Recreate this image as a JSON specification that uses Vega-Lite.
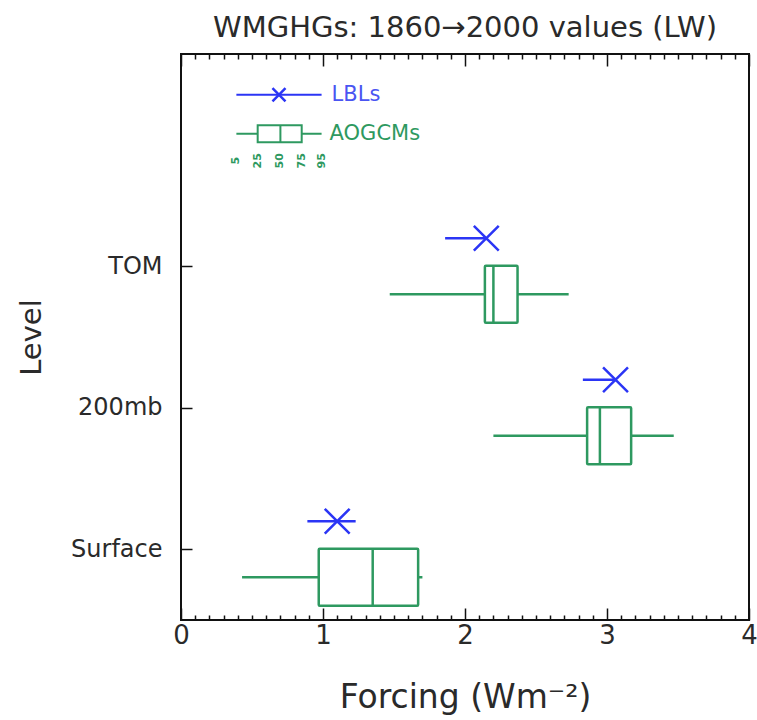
{
  "$schema": "https://vega.github.io/schema/vega-lite/v6.json",
  "width": 568,
  "height": 566,
  "autosize": "none",
  "padding": {"left": 181, "top": 54, "right": 8, "bottom": 100},
  "background": "white",
  "title": {
    "text": "WMGHGs: 1860→2000 values (LW)",
    "font": "DejaVu Sans",
    "fontSize": 29,
    "fontWeight": "normal",
    "color": "#2a2a2a",
    "anchor": "middle",
    "offset": 10
  },
  "config": {
    "view": {"stroke": "#111111", "strokeWidth": 2},
    "axis": {"labelFont": "DejaVu Sans", "titleFont": "DejaVu Sans", "labelColor": "#2a2a2a", "titleColor": "#2a2a2a", "titleFontWeight": "normal", "tickColor": "#111111", "domain": false, "grid": false}
  },
  "datasets": {
    "levels": [
      {"level": "TOM", "lbl_lo": 1.86, "lbl": 2.15, "lbl_hi": 2.15, "p5": 1.47, "p25": 2.14, "p50": 2.2, "p75": 2.37, "p95": 2.73},
      {"level": "200mb", "lbl_lo": 2.83, "lbl": 3.06, "lbl_hi": 3.06, "p5": 2.2, "p25": 2.86, "p50": 2.95, "p75": 3.17, "p95": 3.47},
      {"level": "Surface", "lbl_lo": 0.89, "lbl": 1.1, "lbl_hi": 1.23, "p5": 0.43, "p25": 0.97, "p50": 1.35, "p75": 1.67, "p95": 1.7}
    ],
    "key": [
      {"level": "key", "lbl_name": "LBLs", "aogcm_name": "AOGCMs", "lbl_lo": 0.39, "lbl": 0.69, "lbl_hi": 0.99, "p5": 0.39, "p25": 0.54, "p50": 0.7, "p75": 0.85, "p95": 0.99}
    ],
    "pct": [
      {"level": "key", "pct": "5", "value": 0.39},
      {"level": "key", "pct": "25", "value": 0.54},
      {"level": "key", "pct": "50", "value": 0.7},
      {"level": "key", "pct": "75", "value": 0.85},
      {"level": "key", "pct": "95", "value": 0.99}
    ]
  },
  "resolve": {"scale": {"x": "independent"}, "axis": {"x": "independent"}},
  "layer": [
    {
      "data": {"name": "levels"},
      "mark": {"type": "rule", "color": "#2e9960", "strokeWidth": 2.5, "yOffset": 28},
      "encoding": {
        "x": {
          "field": "p5", "type": "quantitative",
          "scale": {"domain": [0, 4], "nice": false, "zero": false},
          "axis": {
            "orient": "bottom",
            "title": "Forcing (Wm⁻²)",
            "titleFontSize": 33,
            "titlePadding": 26,
            "values": [0,0.1,0.2,0.3,0.4,0.5,0.6,0.7,0.8,0.9,1,1.1,1.2,1.3,1.4,1.5,1.6,1.7,1.8,1.9,2,2.1,2.2,2.3,2.4,2.5,2.6,2.7,2.8,2.9,3,3.1,3.2,3.3,3.4,3.5,3.6,3.7,3.8,3.9,4],
            "tickSize": {"condition": {"test": "abs(datum.value - round(datum.value)) < 0.001", "value": -12}, "value": -5},
            "tickWidth": 1.5,
            "labelExpr": "abs(datum.value - round(datum.value)) < 0.001 ? format(datum.value, '.0f') : ''",
            "labelFontSize": 26,
            "labelPadding": 14,
            "labelOverlap": false,
            "labelFlush": false
          }
        },
        "x2": {"field": "p95"},
        "y": {
          "field": "level", "type": "ordinal",
          "scale": {"type": "point", "domain": ["key", "TOM", "200mb", "Surface"], "padding": 0.5},
          "axis": {
            "title": "Level",
            "titleFontSize": 29,
            "titlePadding": 24,
            "values": ["TOM", "200mb", "Surface"],
            "tickSize": -11,
            "tickWidth": 1.5,
            "labelFontSize": 24,
            "labelPadding": 30
          }
        }
      }
    },
    {
      "data": {"name": "levels"},
      "mark": {"type": "bar", "fill": "white", "stroke": "#2e9960", "strokeWidth": 2.5, "height": 57, "yOffset": 28, "cornerRadius": 1},
      "encoding": {
        "x": {
          "field": "p25", "type": "quantitative",
          "scale": {"domain": [0, 4], "nice": false, "zero": false},
          "axis": {
            "orient": "top",
            "title": null,
            "values": [0,0.1,0.2,0.3,0.4,0.5,0.6,0.7,0.8,0.9,1,1.1,1.2,1.3,1.4,1.5,1.6,1.7,1.8,1.9,2,2.1,2.2,2.3,2.4,2.5,2.6,2.7,2.8,2.9,3,3.1,3.2,3.3,3.4,3.5,3.6,3.7,3.8,3.9,4],
            "tickSize": {"condition": {"test": "abs(datum.value - round(datum.value)) < 0.001", "value": -12}, "value": -5},
            "tickWidth": 1.5,
            "labels": false
          }
        },
        "x2": {"field": "p75"},
        "y": {"field": "level", "type": "ordinal"}
      }
    },
    {
      "data": {"name": "levels"},
      "mark": {"type": "tick", "orient": "vertical", "color": "#2e9960", "opacity": 1, "thickness": 2.5, "size": 57, "yOffset": 28},
      "encoding": {
        "x": {"field": "p50", "type": "quantitative", "scale": {"domain": [0, 4], "nice": false, "zero": false}, "axis": null},
        "y": {"field": "level", "type": "ordinal"}
      }
    },
    {
      "data": {"name": "levels"},
      "mark": {"type": "rule", "color": "#2b35f5", "strokeWidth": 2.5, "yOffset": -28},
      "encoding": {
        "x": {"field": "lbl_lo", "type": "quantitative", "scale": {"domain": [0, 4], "nice": false, "zero": false}, "axis": null},
        "x2": {"field": "lbl_hi"},
        "y": {"field": "level", "type": "ordinal"}
      }
    },
    {
      "data": {"name": "levels"},
      "mark": {"type": "point", "shape": "M-1,-1L1,1M-1,1L1,-1", "filled": false, "stroke": "#2b35f5", "strokeWidth": 2.5, "size": 620, "opacity": 1, "yOffset": -28},
      "encoding": {
        "x": {"field": "lbl", "type": "quantitative", "scale": {"domain": [0, 4], "nice": false, "zero": false}, "axis": null},
        "y": {"field": "level", "type": "ordinal"}
      }
    },
    {
      "data": {"name": "key"},
      "mark": {"type": "rule", "color": "#2b35f5", "strokeWidth": 2, "yOffset": -30},
      "encoding": {
        "x": {"field": "lbl_lo", "type": "quantitative", "scale": {"domain": [0, 4], "nice": false, "zero": false}, "axis": null},
        "x2": {"field": "lbl_hi"},
        "y": {"field": "level", "type": "ordinal"}
      }
    },
    {
      "data": {"name": "key"},
      "mark": {"type": "point", "shape": "M-1,-1L1,1M-1,1L1,-1", "filled": false, "stroke": "#2b35f5", "strokeWidth": 2.5, "size": 170, "opacity": 1, "yOffset": -30},
      "encoding": {
        "x": {"field": "lbl", "type": "quantitative", "scale": {"domain": [0, 4], "nice": false, "zero": false}, "axis": null},
        "y": {"field": "level", "type": "ordinal"}
      }
    },
    {
      "data": {"name": "key"},
      "mark": {"type": "text", "align": "left", "baseline": "middle", "dx": 10, "yOffset": -30, "font": "DejaVu Sans", "fontSize": 21, "color": "#4a55f2"},
      "encoding": {
        "x": {"field": "lbl_hi", "type": "quantitative", "scale": {"domain": [0, 4], "nice": false, "zero": false}, "axis": null},
        "y": {"field": "level", "type": "ordinal"},
        "text": {"field": "lbl_name"}
      }
    },
    {
      "data": {"name": "key"},
      "mark": {"type": "rule", "color": "#2e9960", "strokeWidth": 2, "yOffset": 9},
      "encoding": {
        "x": {"field": "p5", "type": "quantitative", "scale": {"domain": [0, 4], "nice": false, "zero": false}, "axis": null},
        "x2": {"field": "p95"},
        "y": {"field": "level", "type": "ordinal"}
      }
    },
    {
      "data": {"name": "key"},
      "mark": {"type": "bar", "fill": "white", "stroke": "#2e9960", "strokeWidth": 2, "height": 17, "yOffset": 9},
      "encoding": {
        "x": {"field": "p25", "type": "quantitative", "scale": {"domain": [0, 4], "nice": false, "zero": false}, "axis": null},
        "x2": {"field": "p75"},
        "y": {"field": "level", "type": "ordinal"}
      }
    },
    {
      "data": {"name": "key"},
      "mark": {"type": "tick", "orient": "vertical", "color": "#2e9960", "opacity": 1, "thickness": 2, "size": 17, "yOffset": 9},
      "encoding": {
        "x": {"field": "p50", "type": "quantitative", "scale": {"domain": [0, 4], "nice": false, "zero": false}, "axis": null},
        "y": {"field": "level", "type": "ordinal"}
      }
    },
    {
      "data": {"name": "key"},
      "mark": {"type": "text", "align": "left", "baseline": "middle", "dx": 8, "yOffset": 9, "font": "DejaVu Sans", "fontSize": 21, "color": "#2e9960"},
      "encoding": {
        "x": {"field": "p95", "type": "quantitative", "scale": {"domain": [0, 4], "nice": false, "zero": false}, "axis": null},
        "y": {"field": "level", "type": "ordinal"},
        "text": {"field": "aogcm_name"}
      }
    },
    {
      "data": {"name": "pct"},
      "mark": {"type": "text", "align": "center", "baseline": "middle", "angle": 270, "dx": -3, "yOffset": 33, "font": "DejaVu Sans", "fontSize": 11, "fontWeight": "bold", "color": "#2e9960"},
      "encoding": {
        "x": {"field": "value", "type": "quantitative", "scale": {"domain": [0, 4], "nice": false, "zero": false}, "axis": null},
        "y": {"field": "level", "type": "ordinal"},
        "text": {"field": "pct"}
      }
    }
  ]
}
